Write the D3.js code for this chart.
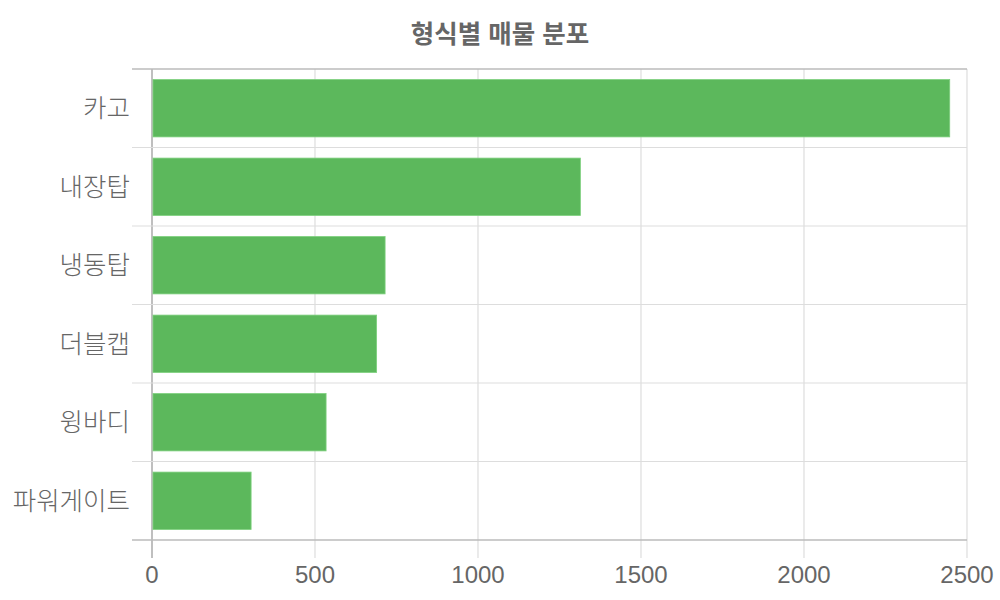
<!DOCTYPE html>
<html><head><meta charset="utf-8">
<script src="https://cdn.jsdelivr.net/npm/d3@7"></script>
<style>body{margin:0;background:#fff;} text{font-family:"Liberation Sans","Noto Sans CJK KR",sans-serif;}</style>
</head><body><svg id="c" width="1000" height="600"></svg>
<script>
const categories = ["카고","내장탑","냉동탑","더블캡","윙바디","파워게이트"];
const values = [2447, 1314, 715, 689, 534, 304];
const xTicks = [0, 500, 1000, 1500, 2000, 2500];
const title = "형식별 매물 분포";

const svg = d3.select("#c");
const L = 152, R = 967, T = 69, B = 540;
const x = d3.scaleLinear().domain([0, 2500]).range([L, R]);
const y = d3.scaleBand().domain(categories).range([T, B]).paddingInner(0.27).paddingOuter(0.135);
const bandEdges = d3.range(categories.length + 1).map(i => T + i * (B - T) / categories.length);

svg.append("text").attr("x", 500).attr("y", 43).attr("text-anchor", "middle")
  .attr("font-size", 25.5).attr("font-weight", "bold").attr("fill", "#666").text(title);

// vertical grid
svg.append("g").selectAll("line").data(xTicks).join("line")
  .attr("x1", d => x(d)).attr("x2", d => x(d)).attr("y1", T).attr("y2", B + 18)
  .attr("stroke", d => d === 0 ? "#aaa" : "#ddd").attr("stroke-width", d => d === 0 ? 1.5 : 1.2);
// horizontal band lines
svg.append("g").selectAll("line").data(bandEdges).join("line")
  .attr("x1", 132).attr("x2", R).attr("y1", d => d).attr("y2", d => d)
  .attr("stroke", (d, i) => (i === 0 || i === categories.length) ? "#bbb" : "#ddd")
  .attr("stroke-width", (d, i) => (i === 0 || i === categories.length) ? 1.5 : 1.2);

svg.append("g").selectAll("rect").data(categories).join("rect")
  .attr("x", x(0) + 1).attr("y", d => y(d))
  .attr("width", (d, i) => x(values[i]) - x(0) - 1).attr("height", y.bandwidth())
  .attr("fill", "#5cb85c").attr("stroke", "#7ccf7c").attr("stroke-width", 0.8);

svg.append("g").selectAll("text").data(categories).join("text")
  .attr("x", 130).attr("y", d => y(d) + y.bandwidth() / 2).attr("dy", "0.35em")
  .attr("text-anchor", "end").attr("font-size", 25.5).attr("font-weight", 300)
  .attr("fill", "#666").text(d => d);

svg.append("g").selectAll("text").data(xTicks).join("text")
  .attr("x", d => x(d)).attr("y", 583).attr("text-anchor", "middle")
  .attr("font-size", 24).attr("fill", "#666").text(d => d);
</script></body></html>
